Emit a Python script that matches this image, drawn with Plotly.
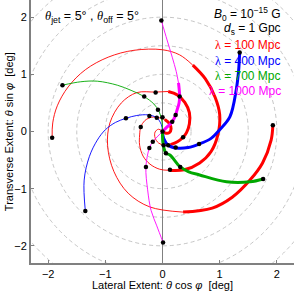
import plotly.graph_objects as go

# ---------------- data (degrees) ----------------
circle_radii = [0.5, 1.0, 1.5, 2.0, 2.5, 3.0]

# lambda = 100 Mpc (red): thin and thick pieces, None separates pieces
red_thin_x = [-1.93, -1.92, -1.84, -1.65, -1.35, -0.95, -0.50, 0.00, 0.30, 0.53, None,
              0.36, -0.22, -0.60, -0.85, -0.96, -0.92, -0.72, -0.45, -0.12, 0.10, None,
              0.13, -0.05, -0.22, -0.34, -0.40, -0.40, -0.38, -0.31, -0.19, -0.06, 0.04, None,
              0.14, 0.03, -0.07, -0.13, -0.13, -0.07, 0.00]
red_thin_y = [-0.11, 0.15, 0.45, 0.78, 1.08, 1.30, 1.42, 1.43, 1.34, 1.16, None,
              -1.41, -1.32, -1.08, -0.70, -0.25, 0.15, 0.50, 0.68, 0.69, 0.70, None,
              -0.68, -0.66, -0.57, -0.43, -0.24, -0.06, 0.08, 0.19, 0.25, 0.24, 0.21, None,
              -0.23, -0.24, -0.20, -0.11, -0.01, 0.04, 0.00]
red_thick_x = [0.53, 0.75, 0.92, 1.00, 0.97, 0.85, 0.65, 0.38, 0.13, None,
               1.93, 1.90, 1.75, 1.53, 1.22, 0.87, 0.36, None,
               0.10, 0.26, 0.39, 0.47, 0.47, 0.42, 0.36, 0.26, 0.14, None,
               0.04, 0.12, 0.15, 0.12, 0.06, 0.00]
red_thick_y = [1.16, 0.92, 0.60, 0.30, -0.05, -0.35, -0.55, -0.67, -0.68, None,
               0.11, -0.15, -0.55, -0.85, -1.15, -1.34, -1.41, None,
               0.70, 0.64, 0.51, 0.33, 0.13, -0.02, -0.10, -0.18, -0.23, None,
               0.21, 0.14, 0.05, -0.02, -0.03, 0.00]

# lambda = 400 Mpc (blue)
blue_thin_x = [-1.35, -1.37, -1.28, -1.14, -1.00, -0.82, -0.64, -0.45, -0.25, -0.10, -0.02, 0.0]
blue_thin_y = [-1.39, -0.85, -0.44, -0.15, 0.03, 0.16, 0.23, 0.28, 0.29, 0.24, 0.12, 0.0]
blue_thick_x = [1.35, 1.33, 1.29, 1.18, 1.00, 0.85, 0.64, 0.45, 0.25, 0.10, 0.02, 0.0]
blue_thick_y = [1.38, 1.05, 0.73, 0.26, 0.03, -0.12, -0.22, -0.28, -0.29, -0.24, -0.12, 0.0]

# lambda = 700 Mpc (green)
green_thin_x = [-1.75, -1.43, -1.14, -0.79, -0.55, -0.32, -0.15, -0.06, -0.01, 0.0]
green_thin_y = [0.81, 0.87, 0.88, 0.81, 0.72, 0.61, 0.48, 0.35, 0.18, 0.0]
green_thick_x = [1.76, 1.53, 1.12, 0.65, 0.45, 0.31, 0.13, 0.06, 0.01, 0.0]
green_thick_y = [-0.83, -0.88, -0.88, -0.76, -0.70, -0.62, -0.41, -0.38, -0.21, 0.0]

# lambda = 1000 Mpc (magenta)
mag_thin_x = [-0.02, 0.08, 0.17, 0.24, 0.28, None,
              0.01, -0.10, -0.20, -0.26, -0.29, -0.23, -0.17, -0.08, 0.0]
mag_thin_y = [1.94, 1.60, 1.30, 1.05, 0.85, None,
              -1.94, -1.65, -1.38, -1.02, -0.62, -0.29, -0.18, -0.08, 0.0]
mag_thick_x = [0.28, 0.30, 0.29, 0.25, 0.23, 0.17, 0.08, 0.0]
mag_thick_y = [0.85, 0.61, 0.50, 0.36, 0.29, 0.17, 0.08, 0.0]

# black markers
dot_x = [-1.93, 1.93, 0.13, -0.12, 0.36, -0.38, 0.00, 0.02,
         -1.35, 1.35, 0.64, -0.64, 0.23, -0.23, 0.10, -0.10,
         -1.75, 1.76, 0.31, -0.32, 0.06, -0.08,
         -0.02, 0.01, 0.30, -0.29, 0.23, -0.23, 0.17, -0.17, 0.0]
dot_y = [-0.11, 0.11, -0.67, 0.68, -0.10, 0.08, 0.25, -0.24,
         -1.39, 1.38, -0.22, 0.23, -0.28, 0.27, -0.24, 0.24,
         0.81, -0.83, -0.62, 0.61, -0.38, 0.38,
         1.94, -1.94, 0.61, -0.62, 0.29, -0.29, 0.17, -0.18, 0.0]

x_ticks = [-2, -1, 0, 1, 2]
y_ticks = [-2, -1, 0, 1, 2]
tick_text = ['−2', '−1', '0', '1', '2']
axis_range = [-2.3, 2.3]

# ---------------- figure ----------------
RED, BLUE, GREEN, MAG = '#ff0000', '#0000ff', '#00a800', '#ff00ff'
THIN, THICK = 0.9, 3.0

fig = go.Figure()
for r in circle_radii:
    fig.add_shape(type='circle', xref='x', yref='y', x0=-r, y0=-r, x1=r, y1=r,
                  line=dict(color='#b8b8b8', width=0.8, dash='4px,3px'), layer='below')

def add_line(xs, ys, color, width):
    fig.add_trace(go.Scatter(x=xs, y=ys, mode='lines', connectgaps=False,
                             line=dict(color=color, width=width, shape='spline', smoothing=1.0),
                             hoverinfo='skip', showlegend=False))

for xs, ys, c in [(red_thin_x, red_thin_y, RED), (blue_thin_x, blue_thin_y, BLUE),
                  (green_thin_x, green_thin_y, GREEN), (mag_thin_x, mag_thin_y, MAG)]:
    add_line(xs, ys, c, THIN)
for xs, ys, c in [(red_thick_x, red_thick_y, RED), (blue_thick_x, blue_thick_y, BLUE),
                  (green_thick_x, green_thick_y, GREEN), (mag_thick_x, mag_thick_y, MAG)]:
    add_line(xs, ys, c, THICK)

fig.add_trace(go.Scatter(x=dot_x, y=dot_y, mode='markers',
                         marker=dict(color='black', size=4.5), hoverinfo='skip', showlegend=False))

FONT = 'Liberation Sans, Arial, Helvetica, sans-serif'
SERIF = 'Liberation Serif, Times New Roman, serif'

fig.add_annotation(xref='paper', yref='paper', x=0.045, y=0.935, xanchor='left', yanchor='middle',
                   text="<span style='font-family:%s'><i>θ</i></span><sub>jet</sub> = 5° , "
                        "<span style='font-family:%s'><i>θ</i></span><sub>off</sub> = 5°" % (SERIF, SERIF),
                   showarrow=False, font=dict(size=12.5, color='black', family=FONT))

right_lines = [
    ("<i>B</i><sub>0</sub> = 10<sup>−15</sup> G", 'black', 0.947),
    ("<i>d</i><sub>s</sub> = 1 Gpc", 'black', 0.888),
    ("<span style='font-family:%s'>λ</span> = 100 Mpc" % SERIF, RED, 0.829),
    ("<span style='font-family:%s'>λ</span> = 400 Mpc" % SERIF, BLUE, 0.769),
    ("<span style='font-family:%s'>λ</span> = 700 Mpc" % SERIF, GREEN, 0.711),
    ("<span style='font-family:%s'>λ</span> = 1000 Mpc" % SERIF, MAG, 0.653),
]
for txt, col, yy in right_lines:
    fig.add_annotation(xref='paper', yref='paper', x=0.96, y=yy, xanchor='right', yanchor='middle',
                       text=txt, showarrow=False, font=dict(size=12, color=col, family=FONT))

# axis titles as annotations (exact placement)
fig.add_annotation(xref='paper', yref='paper', x=0.5, y=-0.085, xanchor='center', yanchor='middle',
                   text="Lateral Extent: <i>θ</i> cos <i>φ</i>  [deg]", showarrow=False,
                   font=dict(size=11, color='black', family=FONT))
fig.add_annotation(xref='paper', yref='paper', x=-0.085, y=0.5, xanchor='center', yanchor='middle',
                   textangle=-90, text="Transverse Extent: <i>θ</i> sin <i>φ</i>  [deg]", showarrow=False,
                   font=dict(size=11, color='black', family=FONT))

axis_common = dict(range=axis_range, showgrid=False, ticks='inside', ticklen=3, automargin=False,
                   tickcolor='#808080', showline=True, linecolor='#808080', linewidth=2,
                   tickfont=dict(size=11, color='black', family=FONT))
fig.update_layout(
    width=295, height=292,
    margin=dict(l=31, r=1, t=0, b=29, autoexpand=False),
    plot_bgcolor='white', paper_bgcolor='white',
    xaxis=dict(**axis_common, tickvals=x_ticks, ticktext=tick_text,
               zeroline=True, zerolinecolor='#808080', zerolinewidth=1),
    yaxis=dict(**axis_common, tickvals=y_ticks, ticktext=tick_text, zeroline=False),
)

fig.write_html("out.html", config={'displayModeBar': False},
               post_script="document.body.style.margin='0';document.body.style.padding='0';")
